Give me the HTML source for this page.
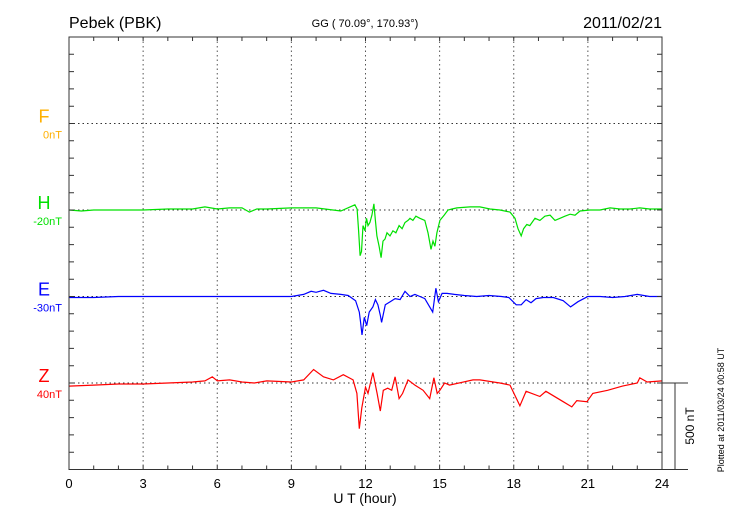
<!DOCTYPE html>
<html><head><meta charset="utf-8"><style>
body{margin:0;background:#fff;}
svg{display:block;font-family:"Liberation Sans",sans-serif;}
</style></head><body>
<svg id="chart" width="730" height="520" viewBox="0 0 730 520">
<text x="69" y="28" font-size="16">Pebek (PBK)</text>
<text x="365" y="27" font-size="11" text-anchor="middle">GG ( 70.09°, 170.93°)</text>
<text x="662" y="28" font-size="16" text-anchor="end">2011/02/21</text>
<text x="365" y="503" font-size="14" text-anchor="middle">U T (hour)</text>
<text transform="translate(724,410) rotate(-90)" font-size="9" text-anchor="middle">Plotted at 2011/03/24 00:58 UT</text>
<text transform="translate(694,426) rotate(-90)" font-size="12" text-anchor="middle">500 nT</text>
<g id="grid"></g><g id="series"></g><g id="axes"></g>
</svg>
<script>
const xTicks = [0,3,6,9,12,15,18,21,24];
const compNames = ['F','H','E','Z'];
const compOffsets = ['0nT','-20nT','-30nT','40nT'];
const compColors = ['#ffb000','#00e000','#0000ff','#ff0000'];
const hHours = [0,0.5,1,2,3,4,5,5.5,6,6.5,7,7.3,7.6,8,9,10,11,11.57,11.66,11.72,11.78,11.84,11.9,11.98,12.04,12.1,12.18,12.26,12.34,12.4,12.46,12.55,12.63,12.71,12.79,12.87,12.99,13.11,13.23,13.36,13.48,13.6,13.72,13.8,13.92,14.04,14.2,14.4,14.53,14.65,14.73,14.81,14.89,15.01,15.18,15.34,15.5,15.7,16.23,16.63,17.04,17.44,17.85,18.05,18.17,18.3,18.4,18.53,18.65,18.86,19.06,19.26,19.47,19.67,19.87,20.07,20.28,20.48,20.68,21.08,21.49,21.9,22.3,22.7,23.1,23.5,24];
const hValues = [0,-6,0,0,0,6,6,18,6,12,12,-12,6,6,12,12,-6,30,6,-120,-264,-240,-90,-120,-48,-90,-72,-30,36,-60,-150,-210,-276,-180,-168,-132,-150,-120,-132,-90,-108,-72,-60,-48,-60,-36,-48,-60,-132,-228,-180,-210,-132,-60,-30,0,6,12,18,18,6,0,-12,-48,-108,-150,-108,-84,-90,-48,-60,-36,-30,-60,-48,-36,-24,-30,-6,0,0,12,6,6,12,6,6];
const eHours = [0,1,2,3,4,5,6,7,8,9,9.5,9.8,10,10.3,10.6,11,11.3,11.6,11.75,11.8,11.86,11.95,12.05,12.15,12.3,12.4,12.5,12.6,12.65,12.8,13,13.2,13.4,13.6,13.8,14,14.2,14.4,14.6,14.72,14.85,14.95,15.1,15.3,15.6,16,16.5,17,17.5,17.8,18.1,18.3,18.5,18.7,18.9,19.2,19.6,20,20.3,20.6,21,21.5,22,22.5,23,23.5,24];
const eValues = [-6,-6,0,0,0,0,0,0,0,0,12,30,24,36,18,12,6,-24,-90,-150,-222,-120,-168,-90,-60,-18,-48,-108,-150,-48,-30,-12,-18,30,0,12,0,-12,-60,-90,48,-30,18,18,12,6,0,6,0,-6,-48,-48,-18,-36,-12,-6,-6,-24,-60,-30,0,0,-6,0,12,0,0];
const zHours = [0,1,2,3,4,5,5.5,5.8,6,6.5,7,7.5,8,9,9.5,9.9,10.3,10.7,11.1,11.5,11.65,11.75,11.85,12,12.1,12.3,12.47,12.6,12.72,12.9,13.06,13.2,13.36,13.5,13.72,14,14.33,14.6,14.77,14.9,15.01,15.2,15.4,16.35,16.63,17.44,17.85,18.25,18.5,19.06,19.3,20,20.35,20.55,20.96,21.2,21.8,22.4,23,23.1,23.4,24];
const zValues = [-18,-12,-6,-6,0,6,12,36,12,18,6,0,12,6,18,78,36,18,48,18,-60,-264,-144,-24,-60,60,-60,-162,-42,-30,-42,36,-90,-60,18,-12,-42,-90,30,-60,-42,0,-12,18,18,0,-12,-132,-48,-78,-48,-108,-138,-102,-108,-60,-42,-18,0,30,6,12];

const NS='http://www.w3.org/2000/svg';
const L=69,R=662,T=37,B=469.5;
const band=(B-T)/5;
const xs=h=>L+h*(R-L)/24;
const baseY=i=>T+band*(i+1);
const yv=(i,v)=>baseY(i)-v*band/500;
function mk(tag,attrs,parent){const e=document.createElementNS(NS,tag);for(const k in attrs)e.setAttribute(k,attrs[k]);parent.appendChild(e);return e;}
const grid=document.getElementById('grid'),ser=document.getElementById('series'),axes=document.getElementById('axes');
xTicks.forEach(h=>{
  if(h>0&&h<24){const g=mk('line',{x1:xs(h),x2:xs(h),y1:T,y2:B,stroke:'#555','stroke-width':1,'stroke-dasharray':'1.5,3'},grid);
  
  }
  const t=mk('text',{x:xs(h),y:488,'font-size':13,'text-anchor':'middle'},axes);t.textContent=h;
  
  
});
compNames.forEach((n,i)=>{
  const g=mk('line',{x1:L,x2:R,y1:baseY(i),y2:baseY(i),stroke:'#333','stroke-width':1,'stroke-dasharray':'1.5,3'},grid);
  
  
  const a=mk('text',{x:44,y:baseY(i)-1,'font-size':18,fill:compColors[i],'text-anchor':'middle'},axes);a.textContent=n;
  
  
  const b=mk('text',{x:62,y:baseY(i)+15,'font-size':11,fill:compColors[i],'text-anchor':'end'},axes);b.textContent=compOffsets[i];
  
  
});
const seriesList=[[hHours,hValues,1,'h-series'],[eHours,eValues,2,'e-series'],[zHours,zValues,3,'z-series']];
seriesList.forEach(([hs,vs,i,name])=>{
  const d=hs.map((h,k)=>(k?'L':'M')+xs(h).toFixed(1)+','+yv(i,vs[k]).toFixed(1)).join('');
  const p=mk('path',{d:d,fill:'none',stroke:compColors[i],'stroke-width':1.2},ser);
  
  
});
let tk='';
for(let h=0;h<=24;h++){tk+=`M${xs(h)},${T}v4M${xs(h)},${B}v-4`;}
for(let j=1;j<25;j++){const y=T+j*band/5;tk+=`M${L},${y}h5M${R},${y}h-5`;}
const ticks=mk('path',{d:tk,stroke:'#333','stroke-width':1,fill:'none'},axes);


const frame=mk('path',{d:`M${L},${T}H${R}V${B}H${L}Z M${R},${B}H688 M${R},${baseY(3)}H688 M675,${baseY(3)}V${B}`,stroke:'#333','stroke-width':1,fill:'none'},axes);


</script>
</body></html>
